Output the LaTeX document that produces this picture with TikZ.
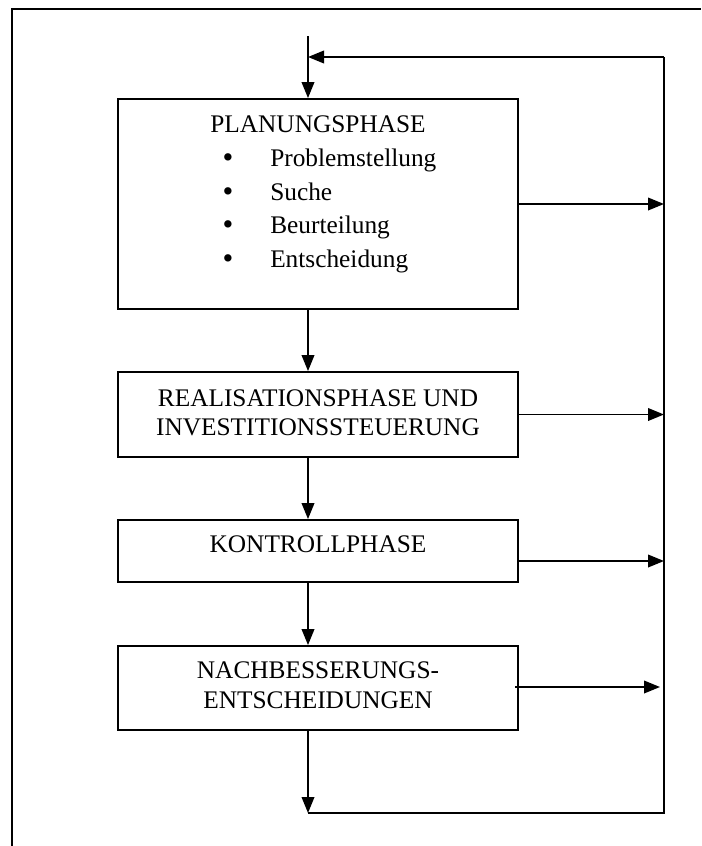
\documentclass[tikz,border=0pt]{standalone}
\usepackage{fontspec}
\setmainfont{Liberation Serif}
\usetikzlibrary{arrows.meta}
\begin{document}
\begin{tikzpicture}[x=0.75pt,y=-0.75pt,
  phase/.style={draw, line width=1.4pt, minimum width=300pt, inner sep=0pt},
  txt/.style={font=\fontsize{19}{25}\selectfont, inner sep=0pt, anchor=base},
  item/.style={txt, anchor=base west},
  bul/.style={txt, font=\fontsize{23}{25}\selectfont},
  conn/.style={line width=1.2pt},
  arr/.style={conn, -{Triangle[length=12pt,width=9.5pt]}},
  frame/.style={line width=1.5pt}
]
\useasboundingbox (0,0) rectangle (701,846);

% outer frame (top and left edges)
\draw[frame] (12,846) -- (12,8.5) -- (701,8.5);

% guide lines: main column and return rail
\coordinate (spine) at (308,0);
\coordinate (rail) at (664,0);
\coordinate (entry) at (308,36);
\coordinate (ret) at (664,57);
\coordinate (foot) at (308,813);

% phase boxes
\node[phase, minimum height=157.5pt] (plan) at (318,204) {};
\node[phase, minimum height=63.75pt] (real) at (318,414.5) {};
\node[phase, minimum height=46.5pt] (kontr) at (318,551) {};
\node[phase, minimum height=63pt] (nach) at (318,688) {};

% box texts
\node[txt] (tplan) at (318,132) {PLANUNGSPHASE};
\node[bul] (b1) at (228,167.5) {•};
\node[bul] (b2) at (228,201.5) {•};
\node[bul] (b3) at (228,234.5) {•};
\node[bul] (b4) at (228,268.5) {•};
\node[item] (i1) at (270,166) {Problemstellung};
\node[item] (i2) at (270,200) {Suche};
\node[item] (i3) at (270,233) {Beurteilung};
\node[item] (i4) at (270,267) {Entscheidung};

\node[txt] (treal1) at (318,406) {REALISATIONSPHASE UND};
\node[txt] (treal2) at (318,435) {INVESTITIONSSTEUERUNG};
\node[txt] (tkontr) at (318,552) {KONTROLLPHASE};
\node[txt] (tnach1) at (318,678) {NACHBESSERUNGS-};
\node[txt] (tnach2) at (318,708) {ENTSCHEIDUNGEN};

% main flow
\draw[arr] (entry) -- (plan.north -| spine);
\draw[arr] (plan.south -| spine) -- (real.north -| spine);
\draw[arr] (real.south -| spine) -- (kontr.north -| spine);
\draw[arr] (kontr.south -| spine) -- (nach.north -| spine);
\draw[arr] (nach.south -| spine) -- (foot);

% side outputs into the rail
\coordinate (o3) at (518,561);
\coordinate (o4s) at (515,687);
\coordinate (o4e) at (660,687);
\draw[arr] (plan.east) -- (plan.east -| rail);
\draw[arr] (real.east) -- (real.east -| rail);
\draw[arr] (o3) -- (o3 -| rail);
\draw[arr] (o4s) -- (o4e);

% return loop
\draw[conn] (foot) -- (foot -| rail) -- (ret);
\draw[arr] (ret) -- (ret -| spine);
\end{tikzpicture}
\end{document}
